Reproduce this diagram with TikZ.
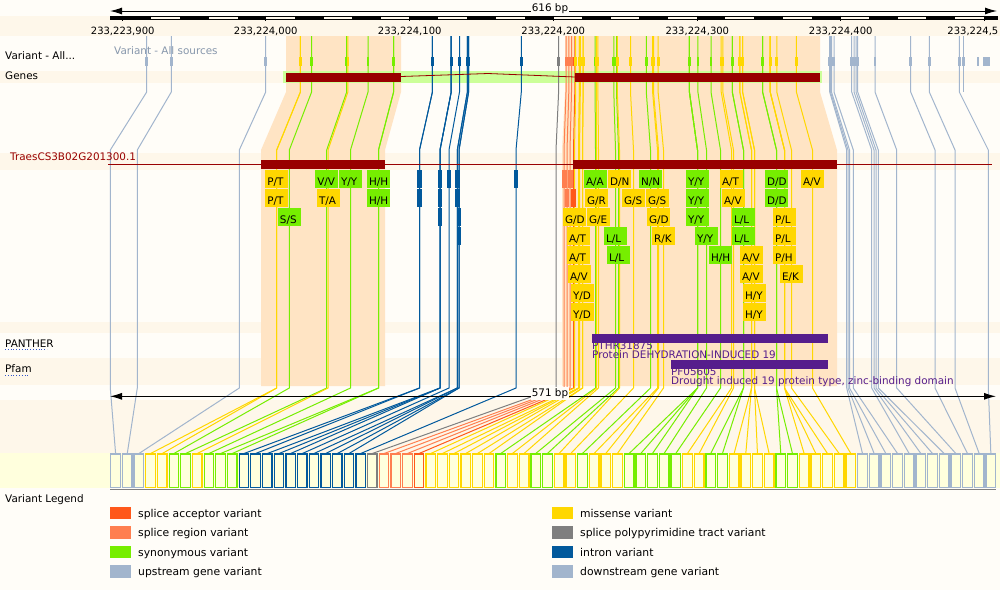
\documentclass[tikz,border=0pt]{standalone}
\usepackage{fontspec}
\setmainfont{DejaVu Sans}
\usetikzlibrary{arrows.meta}
\definecolor{bgA}{HTML}{FFFDF8}
\definecolor{bgB}{HTML}{FEF7EA}
\definecolor{bgY}{HTML}{FFFFDD}
\definecolor{hlO}{HTML}{FFE4C4}
\definecolor{hlG}{HTML}{CCFF99}
\definecolor{cY}{HTML}{FFD700}
\definecolor{cG}{HTML}{76EE00}
\definecolor{cB}{HTML}{02599C}
\definecolor{cU}{HTML}{A2B5CD}
\definecolor{cD}{HTML}{A2B5CD}
\definecolor{cR}{HTML}{FF7F50}
\definecolor{cA}{HTML}{FF581A}
\definecolor{cP}{HTML}{7F7F7F}
\definecolor{gred}{HTML}{990000}
\definecolor{purp}{HTML}{561D8C}
\definecolor{srcgrey}{HTML}{8797AC}
\definecolor{ulblue}{HTML}{3355CC}
\newcommand\fsz[1]{\fontsize{#1}{#1}\selectfont}
% top x / transcript x / bottom box index / colour
\def\vdata{146.7/110.3/0/cU,171.3/137.3/1/cU,265.7/239.3/2/cU,
300.4/276.7/3/cY,300.4/276.7/4/cY,311.6/289.3/5/cG,346.7/326.7/6/cG,347.9/328.0/7/cY,368.0/350.5/8/cG,393.6/378.5/9/cG,393.6/378.5/10/cG,
432.4/419.5/11/cB,432.4/419.5/12/cB,451.2/440.0/13/cB,451.2/440.0/14/cB,451.2/440.0/15/cB,459.5/449.0/16/cB,467.4/457.3/17/cB,467.4/457.3/18/cB,468.6/459.0/19/cB,468.6/459.0/20/cB,521.3/516.0/21/cB,
558.6/556.0/22/cP,566.0/564.0/23/cR,568.8/567.0/24/cR,571.5/570.0/25/cR,574.8/573.5/26/cA,
575.7/574.5/27/cY,579.4/578.5/28/cY,579.4/578.5/29/cY,580.3/579.5/30/cY,583.1/582.5/31/cY,583.1/582.5/32/cY,
595.1/595.5/33/cG,596.3/596.5/34/cY,597.9/598.5/35/cY,613.8/615.5/36/cG,616.5/618.5/37/cG,617.3/619.5/38/cY,
630.5/633.5/39/cY,646.3/650.5/40/cG,652.6/657.5/41/cY,653.5/658.5/42/cY,658.1/663.5/43/cY,
689.4/697.5/44/cG,689.4/697.5/45/cG,689.4/697.5/46/cG,697.9/706.5/47/cG,711.0/720.5/48/cG,
721.2/731.5/49/cY,722.8/733.5/50/cY,732.3/743.5/51/cG,732.3/743.5/52/cG,739.8/751.5/53/cY,739.8/751.5/54/cY,
742.6/754.5/55/cY,742.6/754.5/56/cY,762.6/776.5/57/cG,762.6/776.5/58/cG,770.2/784.5/59/cY,770.2/784.5/60/cY,
770.2/784.5/61/cY,776.8/791.5/62/cY,796.4/812.5/63/cY,
829.7/846.7/64/cD,830.5/848.0/65/cD,831.5/849.5/66/cD,834.0/853.3/67/cD,851.7/871.7/68/cD,854.0/874.0/69/cD,
856.0/876.0/70/cD,857.7/878.3/71/cD,875.0/896.7/72/cD,910.7/935.0/73/cD,929.3/955.0/74/cD,959.3/988.3/75/cD}
% transcript x / row / label / colour
\def\cqdata{276.7/1/{P/T}/cY,276.7/2/{P/T}/cY,289.3/3/{S/S}/cG,326.7/1/{V/V}/cG,328.5/2/{T/A}/cY,350.5/1/{Y/Y}/cG,378.5/1/{H/H}/cG,378.5/2/{H/H}/cG,
595.5/1/{A/A}/cG,619.5/1/{D/N}/cY,650.5/1/{N/N}/cG,697.5/1/{Y/Y}/cG,731.5/1/{A/T}/cY,776.5/1/{D/D}/cG,812.5/1/{A/V}/cY,
596.5/2/{G/R}/cY,633.5/2/{G/S}/cY,657.5/2/{G/S}/cY,697.5/2/{Y/Y}/cG,733.5/2/{A/V}/cY,776.5/2/{D/D}/cG,
574.5/3/{G/D}/cY,598.5/3/{G/E}/cY,658.5/3/{G/D}/cY,697.5/3/{Y/Y}/cG,743.5/3/{L/L}/cG,784.5/3/{P/L}/cY,
578.5/4/{A/T}/cY,615.5/4/{L/L}/cG,663.5/4/{R/K}/cY,706.5/4/{Y/Y}/cG,743.5/4/{L/L}/cG,784.5/4/{P/L}/cY,
578.5/5/{A/T}/cY,618.5/5/{L/L}/cG,720.5/5/{H/H}/cG,751.5/5/{A/V}/cY,784.5/5/{P/H}/cY,
579.5/6/{A/V}/cY,751.5/6/{A/V}/cY,791.5/6/{E/K}/cY,
582.5/7/{Y/D}/cY,754.5/7/{H/Y}/cY,582.5/8/{Y/D}/cY,754.5/8/{H/Y}/cY}
\begin{document}
\begin{tikzpicture}[x=1pt,y=-1pt,
  lab/.style={inner sep=0pt,anchor=base west,font=\fsz{10.4}},
  vline/.style={line width=1pt},
  arr/.style={line width=1pt,{Latex[length=12pt,width=7pt]}-{Latex[length=12pt,width=7pt]}}]
\useasboundingbox (0,0) rectangle (1000,590);
% backgrounds
\fill[bgA] (0,0) rectangle (1000,590);
\foreach \ya/\yb in {16/36,71/83.3,153/170,322/333,358/385,400/453}{\fill[bgB] (0,\ya) rectangle (1000,\yb);}
\fill[bgY] (0,453) rectangle (1000,488);
% exon highlights
\fill[hlO] (286,36) -- (401,36) -- (401,92) -- (385,150) -- (385,386) -- (261,386) -- (261,150) -- (286,92) -- cycle;
\fill[hlO] (565,36) -- (820,36) -- (820,92) -- (837,150) -- (837,386) -- (562,386) -- (562,150) -- (565,92) -- cycle;
\fill[hlG] (283,71) rectangle (822,83.3);
% variant lines
\foreach \tp/\T/\bi/\c in \vdata {
  \pgfmathsetmacro\bc{115.6+11.67*\bi}
  \draw[vline,\c] (\tp,36) -- (\tp,92) -- (\T,150) -- (\T,388) -- (\bc,453.5);
}
\draw[vline,cD] (963.3,36) -- (963.3,92);
% genes track
\draw[gred,line width=0.8pt] (401,76.5) -- (488,73.5) -- (575,77);
\fill[gred] (286,72.5) rectangle (401,81.5);
\fill[gred] (575,72.5) rectangle (820,81.5);
% variant glyphs in top track
\foreach \tp/\T/\bi/\c in \vdata {\fill[\c] ({\tp-1.4},56.5) rectangle ({\tp+1.4},65.5);}
\fill[cD] (961.9,56.5) rectangle (964.7,65.5);
\fill[cD] (976.6,56.5) rectangle (979.4,65.5);
\fill[cD] (982.8,56.5) rectangle (990,65.5);
% transcript
\draw[gred,line width=1pt] (108,164.3) -- (992,164.3);
\fill[gred] (261,160) rectangle (385,169.3);
\fill[gred] (573,160) rectangle (837,169.3);
% consequence boxes
\foreach \T/\r/\lb/\c [count=\k] in \cqdata {
  \pgfmathsetmacro\ry{170+19*(\r-1)}
  \fill[\c] ({\T-11.5},\ry) rectangle ({\T+11.5},{\ry+17.7});
  \node[inner sep=0pt,anchor=base west,font=\fsz{10.4}] (cq\k) at ({\T-9.6},{\ry+15.3}) {\lb};
}
% intron glyphs
\foreach \T/\r in {419.5/1,419.5/2,440/1,440/2,440/3,449/1,457.3/1,457.3/2,459/3,459/4,516/1}{
  \pgfmathsetmacro\ry{170+19*(\r-1)}
  \fill[cB] ({\T-2.4},\ry) rectangle ({\T+2.4},{\ry+17.7});
}
% splice glyphs
\fill[cR] (562.3,170) rectangle (567,187.7);
\fill[cR] (567.6,170) rectangle (573,187.7);
\fill[cR] (565,189) rectangle (569.2,206.7);
\fill[cA] (570.8,189) rectangle (575.7,206.7);
% PANTHER / Pfam
\node[lab,text=purp] (pth) at (592,349.3) {PTHR31875};
\node[lab,text=purp] (pthd) at (592,358.3) {Protein DEHYDRATION-INDUCED 19};
\node[lab,text=purp] (pf) at (671,375.7) {PF05605};
\node[lab,text=purp] (pfd) at (671,384.3) {Drought induced 19 protein type, zinc-binding domain};
\fill[purp] (592,334) rectangle (828,342.7);
\fill[purp] (671,360) rectangle (828,368.7);
% bottom boxes
\foreach \tp/\T/\bi/\c in \vdata {
  \pgfmathsetmacro\bx{110.8+11.67*\bi}
  \draw[\c,line width=1.3pt,fill=bgY] (\bx,454) rectangle ++(9.6,33.5);
}
\draw[gray,line width=1.3pt] (110,489.5) -- (996,489.5);
% mid arrow
\draw[arr] (110,396.3) -- (996,396.3);
\node[fill=bgA,inner sep=1pt,font=\fsz{10.4}] (bp2) at (550,393.5) {571 bp};
% ruler
\draw[arr] (110,11) -- (997,11);
\node[fill=bgA,inner sep=1pt,font=\fsz{10.4}] (bp1) at (550,8.2) {616 bp};
\begin{scope}
\clip (110,15.7) rectangle (997,19.5);
\fill[black] (110,15.7) rectangle (122.7,19.5);
\foreach \k in {0,...,15}{\fill[black] ({122.7+57.4*\k},15.7) rectangle ({151.4+57.4*\k},19.5);}
\end{scope}
\draw[line width=0.8pt] (110,16.1) rectangle (997,19.1);
\foreach \x/\t [count=\k] in {122.7/{233,223,900},265.7/{233,224,000},409.7/{233,224,100},553.3/{233,224,200},697.3/{233,224,300},840.7/{233,224,400}}{
  \draw[line width=1pt] (\x,15.7) -- (\x,21);
  \node[inner sep=0pt,anchor=base,font=\fsz{10}] (tk\k) at (\x,34) {\t};
}
\draw[line width=1pt] (984,15.7) -- (984,21);
\node[inner sep=0pt,anchor=base east,font=\fsz{10}] (tk7) at (998.5,34) {233,224,5};
% legend
\foreach \yy/\c/\t [count=\k] in {513/cA/{splice acceptor variant},532.5/cR/{splice region variant},552/cG/{synonymous variant},571.5/cU/{upstream gene variant}}{
  \fill[\c] (110,{\yy-6.3}) rectangle (131,{\yy+6.3});
  \node[inner sep=0pt,anchor=base west,font=\fsz{10.8}] (lgl\k) at (138,{\yy+4}) {\t};
}
\foreach \yy/\c/\t [count=\k] in {513/cY/{missense variant},532.5/cP/{splice polypyrimidine tract variant},552/cB/{intron variant},571.5/cD/{downstream gene variant}}{
  \fill[\c] (552,{\yy-6.3}) rectangle (573,{\yy+6.3});
  \node[inner sep=0pt,anchor=base west,font=\fsz{10.8}] (lgr\k) at (580,{\yy+4}) {\t};
}
% left labels
\node[lab] (l1) at (5,59) {Variant - All...};
\node[lab] (l2) at (5,79) {Genes};
\node[lab,text=gred] (l3) at (10,160) {TraesCS3B02G201300.1};
\node[lab] (l4) at (5,347) {PANTHER};
\node[lab] (l5) at (5,372) {Pfam};
\node[lab] (l6) at (5,502) {Variant Legend};
\node[lab,text=srcgrey] (src) at (114,54) {Variant - All sources};
\draw[ulblue,dotted,line width=0.8pt] (5,349.5) -- (47,349.5);
\draw[ulblue,dotted,line width=0.8pt] (5,375.5) -- (30,375.5);
\end{tikzpicture}
\end{document}
